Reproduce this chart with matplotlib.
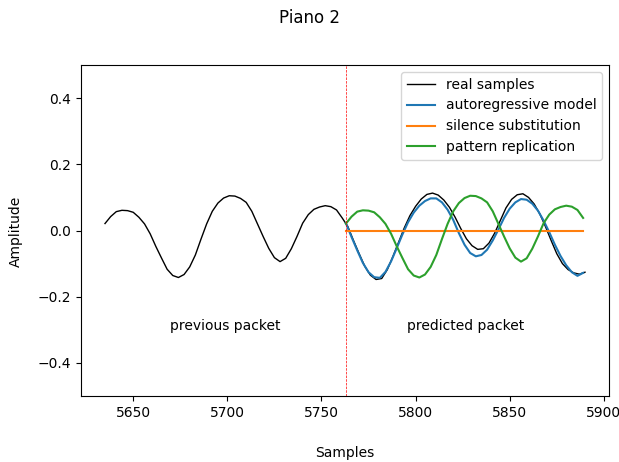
import numpy as np
import matplotlib
matplotlib.use("Agg")
import matplotlib.pyplot as plt

# Sample positions (every 3rd sample)
start_sample = 5635
packet_start = 5763
step = 3

# Real samples, 5635..5890 step 3
real_values = [
    0.021, 0.042, 0.057, 0.061, 0.060, 0.055, 0.040, 0.020, -0.010, -0.048,
    -0.083, -0.117, -0.136, -0.142, -0.133, -0.110, -0.074, -0.026, 0.020, 0.058,
    0.083, 0.098, 0.105, 0.104, 0.097, 0.085, 0.058, 0.020, -0.018, -0.054,
    -0.082, -0.094, -0.084, -0.055, -0.018, 0.022, 0.048, 0.064, 0.071, 0.075,
    0.072, 0.062, 0.038,
    0.012, -0.030, -0.070, -0.108, -0.135, -0.148, -0.145, -0.118, -0.078, -0.035,
    0.008, 0.045, 0.073, 0.095, 0.109, 0.113, 0.107, 0.092, 0.070, 0.040,
    0.006, -0.025, -0.046, -0.057, -0.055, -0.038, -0.008, 0.030, 0.068, 0.094,
    0.108, 0.111, 0.100, 0.080, 0.050, 0.012, -0.030, -0.070, -0.100, -0.118,
    -0.128, -0.132, -0.126,
]

# Autoregressive prediction, 5763..5889 step 3
ar_values = [
    0.022, -0.020, -0.060, -0.098, -0.126, -0.141, -0.143, -0.125, -0.093, -0.053,
    -0.012, 0.025, 0.054, 0.075, 0.089, 0.097, 0.097, 0.085, 0.063, 0.032,
    -0.008, -0.043, -0.068, -0.078, -0.074, -0.058, -0.030, 0.003, 0.038, 0.066,
    0.085, 0.095, 0.093, 0.081, 0.060, 0.030, -0.005, -0.043, -0.077, -0.105,
    -0.126, -0.137, -0.128,
]

n_pred = len(ar_values)
real_x = start_sample + step * np.arange(len(real_values))
pred_x = packet_start + step * np.arange(n_pred)

# Pattern replication: the previous packet copied into the gap
pattern_values = real_values[:n_pred]
# Silence substitution: zeros
silence_values = [0.0] * n_pred

fig = plt.figure(figsize=(6.19, 4.62), dpi=100)
ax = fig.add_subplot(111)
fig.subplots_adjust(left=81 / 619, right=609 / 619, top=1 - 65 / 462, bottom=1 - 396 / 462)

ax.plot(real_x, real_values, color="black", lw=1.0, label="real samples")
ax.plot(pred_x, ar_values, color="#1f77b4", lw=1.5, label="autoregressive model")
ax.plot(pred_x, silence_values, color="#ff7f0e", lw=1.5, label="silence substitution")
ax.plot(pred_x, pattern_values, color="#2ca02c", lw=1.5, label="pattern replication")
ax.axvline(packet_start, color="red", ls="--", lw=0.5)

ax.set_ylim(-0.5, 0.5)
ax.text((start_sample + packet_start) / 2, -0.29, "previous packet", ha="center", va="center")
ax.text((packet_start + real_x[-1]) / 2, -0.29, "predicted packet", ha="center", va="center")
ax.legend(loc="upper right")

fig.suptitle("Piano 2", y=1 - 18 / 462, va="center", fontsize=12)
fig.supxlabel("Samples", x=345 / 619, y=1 - 453 / 462, va="center", fontsize=10)
fig.supylabel("Amplitude", x=16 / 619, y=1 - 231 / 462, ha="center", va="center", fontsize=10)
fig.savefig("out.png", dpi=100)
